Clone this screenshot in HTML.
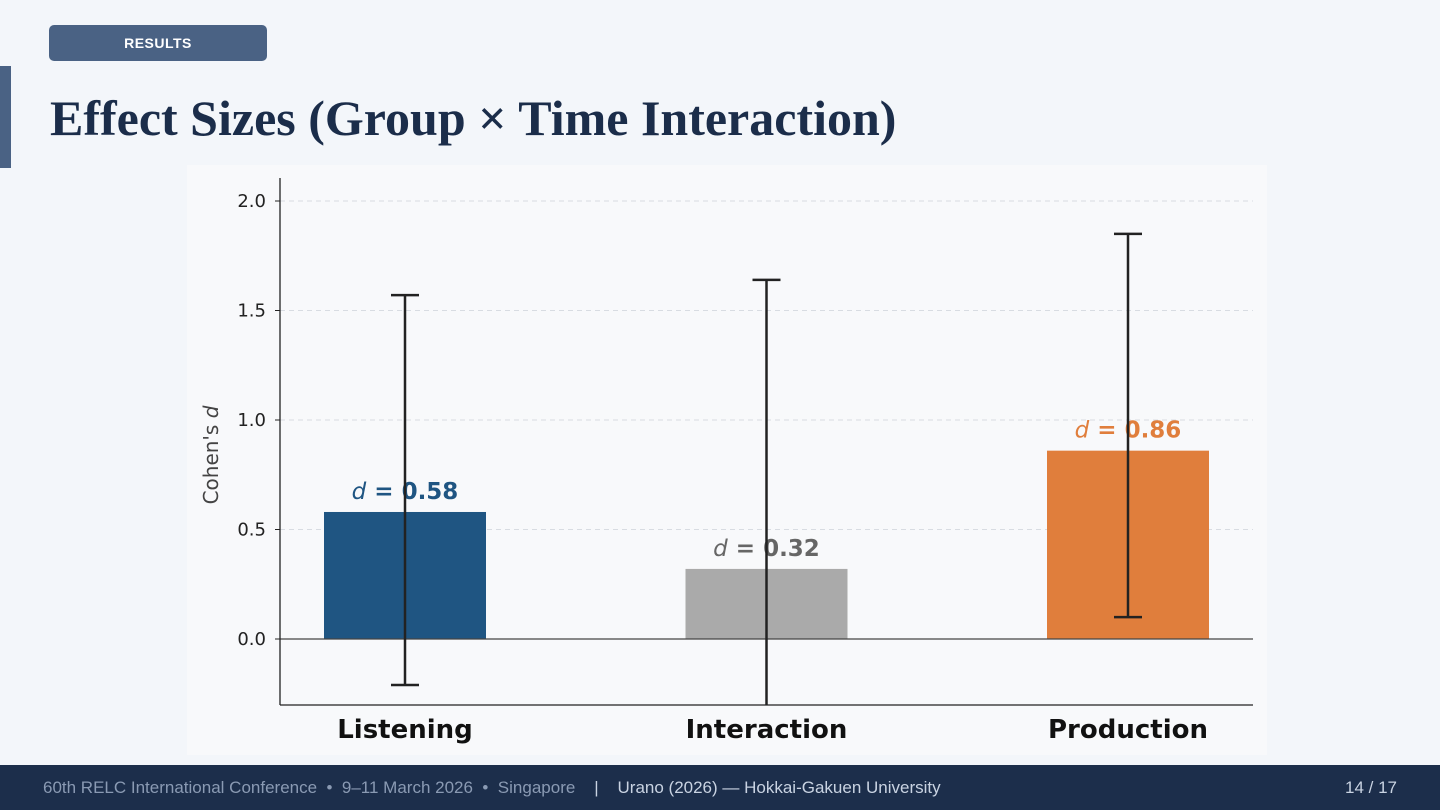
<!DOCTYPE html>
<html style="overflow:hidden"><head><meta charset="utf-8"><style>
html,body{overflow:hidden}
body{margin:0;width:1440px;height:810px;background:#f3f6fa;position:relative;overflow:hidden;font-family:"Liberation Sans","DejaVu Sans",sans-serif}
.tag{position:absolute;left:49px;top:25px;width:218px;height:36px;background:#4a6284;border-radius:5px;color:#fff;font-size:14px;font-weight:bold;text-align:center;line-height:36px;letter-spacing:0.5px}
.bar{position:absolute;left:0;top:66px;width:11px;height:102px;background:#4a6284}
h1{position:absolute;left:50px;top:88px;margin:0;font-family:"Liberation Serif",serif;font-size:50px;line-height:60px;font-weight:bold;color:#1b2d4a;white-space:nowrap}
.panel{position:absolute;left:187px;top:165px;width:1080px;height:590px;background:#f8f9fb}
.foot{position:absolute;left:0;top:765px;width:1440px;height:45px;background:#1c2e4b;color:#8a9ab3;font-size:17px;line-height:45px;overflow:hidden}
</style></head><body>
<div class="tag">RESULTS</div>
<div class="bar"></div>
<h1>Effect Sizes (Group × Time Interaction)</h1>
<div class="panel"></div>
<svg id="chart" width="1440" height="810" style="position:absolute;left:0;top:0;font-family:'DejaVu Sans',sans-serif"></svg>
<div class="foot">
<span style="position:absolute;left:43px">60th RELC International Conference &nbsp;•&nbsp; 9–11 March 2026 &nbsp;•&nbsp; Singapore &nbsp;&nbsp; <span style="color:#c9d3e2">| &nbsp;&nbsp; Urano (2026) — Hokkai-Gakuen University</span></span>
<span style="position:absolute;right:43px;color:#c9d3e2">14 / 17</span>
</div>
<script>
const categories=["Listening","Interaction","Production"];
const values=[0.58,0.32,0.86];
const ciLow=[-0.21,-1.0,0.10];
const ciHigh=[1.57,1.64,1.85];
const colors=["#1f5582","#aaaaaa","#e07e3c"];
const labelColors=["#1f5582","#666666","#e07e3c"];
const yTicks=[0.0,0.5,1.0,1.5,2.0];
const svg=document.getElementById('chart');
const NS="http://www.w3.org/2000/svg";
const X0=280,X1=1253,YT=178,YB=705;
const y=v=>639-v*219;
const x=i=>405+i*361.5;
function mk(t,a,p){const e=document.createElementNS(NS,t);for(const k in a)e.setAttribute(k,a[k]);(p||svg).appendChild(e);return e;}
const defs=mk('defs',{});const cp=mk('clipPath',{id:'c'},defs);mk('rect',{x:X0,y:YT,width:X1-X0,height:YB-YT},cp);
yTicks.forEach(t=>{
 const g=mk('line',{x1:X0,x2:X1,y1:y(t),y2:y(t),stroke:'#d8dce2','stroke-dasharray':'5,4','stroke-width':1});
 
 mk('line',{x1:X0-5,x2:X0,y1:y(t),y2:y(t),stroke:'#222'});
 const l=mk('text',{x:X0-14,y:y(t)+6,'text-anchor':'end','font-size':18,fill:'#222'});l.textContent=t.toFixed(1);
 
});
const bw=162;
categories.forEach((c,i)=>{
 const r=mk('rect',{x:x(i)-bw/2,y:Math.min(y(values[i]),y(0)),width:bw,height:Math.abs(y(0)-y(values[i])),fill:colors[i]});
 
});
mk('line',{x1:X0,x2:X1,y1:y(0),y2:y(0),stroke:'#444','stroke-width':1.3});
categories.forEach((c,i)=>{
 const l=mk('text',{x:x(i),y:y(values[i])-13,'text-anchor':'middle','font-size':23,'font-weight':'bold',fill:labelColors[i]});
 l.innerHTML='<tspan font-style="italic" font-weight="normal">d</tspan> = '+values[i].toFixed(2);
 
 const g=mk('g',{'clip-path':'url(#c)',stroke:'#222','stroke-width':2.5});
 
 mk('line',{x1:x(i),x2:x(i),y1:y(ciLow[i]),y2:y(ciHigh[i])},g);
 mk('line',{x1:x(i)-14,x2:x(i)+14,y1:y(ciLow[i]),y2:y(ciLow[i])},g);
 mk('line',{x1:x(i)-14,x2:x(i)+14,y1:y(ciHigh[i]),y2:y(ciHigh[i])},g);
 const t=mk('text',{x:x(i),y:738,'text-anchor':'middle','font-size':26,'font-weight':'bold',fill:'#111'});t.textContent=c;
 
});
mk('line',{x1:X0,x2:X0,y1:YT,y2:YB,stroke:'#222','stroke-width':1.3});
mk('line',{x1:X0,x2:X1,y1:YB,y2:YB,stroke:'#222','stroke-width':1.3});
const yt=mk('text',{transform:'translate(218,455) rotate(-90)','text-anchor':'middle','font-size':20,fill:'#444'});
yt.innerHTML='Cohen\'s <tspan font-style="italic">d</tspan>';

</script>
</body></html>
